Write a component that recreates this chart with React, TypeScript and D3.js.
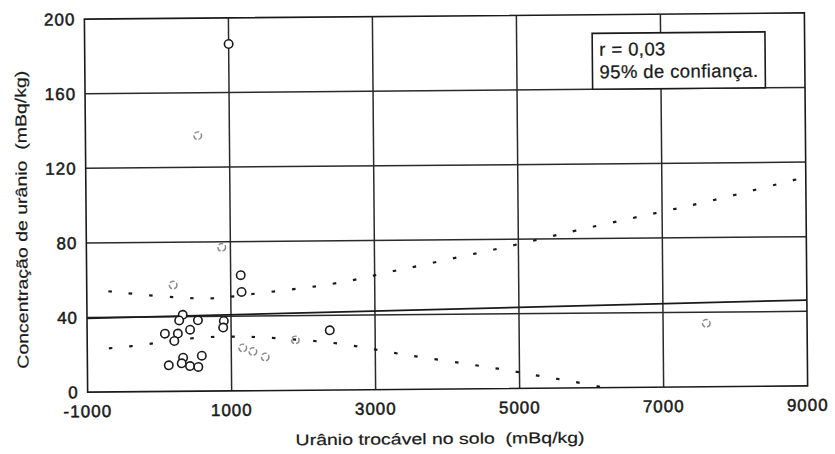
import React from "react";
import * as d3 from "d3";

// Exchangeable uranium in soil (x, mBq/kg) vs uranium concentration (y, mBq/kg)
const samplesClear: [number, number][] = [
  [1140, 62], [1150, 53], [330, 41], [280, 38], [540, 38], [900, 37.5],
  [890, 34], [80, 31], [260, 31], [430, 33], [210, 27], [330, 18],
  [590, 19], [130, 14], [310, 15], [425, 13.5], [540, 13], [2370, 32],
  [1000, 186],
];
const samplesFaint: [number, number][] = [
  [1160, 23], [1300, 21], [1470, 18], [1890, 27], [200, 57], [880, 77],
  [560, 137], [7600, 34],
];

// Least-squares line and its 95% confidence limits
const regression: [number, number][] = [[-1000, 39.5], [9000, 46]];
const upperLimit: [number, number][] = [
  [-700, 54], [-50, 51.2], [530, 49.6], [820, 49.5], [1400, 52.4],
  [2280, 55.8], [2840, 59.8], [3120, 62.4], [3670, 66.6], [4260, 71.4],
  [4840, 75.9], [5400, 80.8], [5680, 83.4], [6660, 91.4], [7200, 95.6],
  [7790, 100.6], [8360, 106], [8920, 111.2], [9000, 112],
];
const lowerLimit: [number, number][] = [
  [-700, 23.4], [-380, 24.4], [-90, 25.8], [520, 29.1], [1120, 29.2],
  [1400, 28.7], [2280, 26.2], [2830, 22.9], [3380, 18.6], [3940, 15.4],
  [4550, 11.6], [4830, 9.9], [5400, 5.6], [5680, 4.0], [6300, -1],
];

const xTicks = [-1000, 1000, 3000, 5000, 7000, 9000];
const yTicks = [0, 40, 80, 120, 160, 200];
const xGrid = [1000, 3000, 5000, 7000];
const yGrid = [40, 80, 120, 160];

const xTitle = "Urânio trocável no solo  (mBq/kg)";
const yTitle = "Concentração de urânio  (mBq/kg)";
const noteLines = ["r = 0,03", "95% de confiança."];

const W = 835;
const H = 454;
const FONT = "'Liberation Sans', Arial, Helvetica, sans-serif";
const INK = "#1a1a1a";

export default function App() {
  const x = d3.scaleLinear().domain([-1000, 9000]).range([86, 806]);
  const y = d3.scaleLinear().domain([0, 200]).range([389, 16]);
  const [x0, x1] = x.range();
  const [y0, y1] = y.range();

  const line = d3
    .line<[number, number]>()
    .x((d) => x(d[0]))
    .y((d) => y(d[1]))
    .curve(d3.curveBasis);
  const straight = d3
    .line<[number, number]>()
    .x((d) => x(d[0]))
    .y((d) => y(d[1]));

  const boxX0 = x(6050);
  const boxX1 = x(8450);
  const boxY0 = y(190);
  const boxY1 = y(160);

  const labelStyle = { whiteSpace: "pre" as const };

  return (
    <svg
      width={W}
      height={H}
      viewBox={`0 0 ${W} ${H}`}
      style={{ position: "absolute", left: 0, top: 0, background: "#fff" }}
    >
      <defs>
        <clipPath id="plot-clip">
          <rect x={x0} y={y1} width={x1 - x0} height={y0 - y1} />
        </clipPath>
      </defs>
      <rect width={W} height={H} fill="#fff" />
      <g transform="rotate(-0.5 446 202)">
        {/* grid */}
        {yGrid.map((v) => (
          <line key={`hy${v}`} x1={x0} x2={x1} y1={y(v)} y2={y(v)} stroke="#2a2a2a" strokeWidth={1.5} />
        ))}
        {xGrid.map((v) => (
          <line key={`vx${v}`} x1={x(v)} x2={x(v)} y1={y0} y2={y1} stroke="#2a2a2a" strokeWidth={1.5} />
        ))}
        {/* frame */}
        <rect x={x0} y={y1} width={x1 - x0} height={y0 - y1} fill="none" stroke={INK} strokeWidth={1.6} />

        {/* regression and confidence limits */}
        <g clipPath="url(#plot-clip)">
          <path d={straight(regression) ?? ""} fill="none" stroke={INK} strokeWidth={1.7} />
          <path d={line(upperLimit) ?? ""} fill="none" stroke={INK} strokeWidth={2.2} strokeDasharray="3.5 17" />
          <path d={line(lowerLimit) ?? ""} fill="none" stroke={INK} strokeWidth={2.2} strokeDasharray="3.5 17" />
        </g>

        {/* samples */}
        {samplesFaint.map((d, i) => (
          <circle key={`f${i}`} cx={x(d[0])} cy={y(d[1])} r={3.8} fill="none" stroke="#8a8a8a" strokeWidth={1.4} strokeDasharray="5 2" />
        ))}
        {samplesClear.map((d, i) => (
          <circle key={`c${i}`} cx={x(d[0])} cy={y(d[1])} r={4.2} fill="#fff" stroke={INK} strokeWidth={1.6} />
        ))}

        {/* note box */}
        <rect x={boxX0} y={boxY0} width={boxX1 - boxX0} height={boxY1 - boxY0} fill="#fff" stroke={INK} strokeWidth={1.6} />
        {noteLines.map((t, i) => (
          <text
            key={t}
            x={boxX0 + 7}
            y={boxY0 + 22.5 + i * 22.5}
            fontFamily={FONT}
            fontSize={18.5}
            letterSpacing={0.4}
            fill={INK}
            stroke={INK}
            strokeWidth={0.25}
          >
            {t}
          </text>
        ))}

        {/* tick labels */}
        {xTicks.map((v) => (
          <text key={`xt${v}`} x={x(v)} y={y0 + 25} textAnchor="middle" fontFamily={FONT} fontSize={17} letterSpacing={1} fill={INK} stroke={INK} strokeWidth={0.5}>
            {v}
          </text>
        ))}
        {yTicks.map((v) => (
          <text key={`yt${v}`} x={x0 - 9} y={y(v) + 6} textAnchor="end" fontFamily={FONT} fontSize={17} letterSpacing={1} fill={INK} stroke={INK} strokeWidth={0.5}>
            {v}
          </text>
        ))}

        {/* axis titles */}
        <text
          x={(x0 + x1) / 2 - 8}
          y={444}
          textAnchor="middle"
          fontFamily={FONT}
          fontSize={15.5}
          textLength={289}
          lengthAdjust="spacingAndGlyphs"
          fill={INK}
          stroke={INK}
          strokeWidth={0.2}
          style={labelStyle}
        >
          {xTitle}
        </text>
        <text
          transform="translate(27 216) rotate(-90)"
          textAnchor="middle"
          fontFamily={FONT}
          fontSize={15.5}
          textLength={298}
          lengthAdjust="spacingAndGlyphs"
          fill={INK}
          stroke={INK}
          strokeWidth={0.2}
          style={labelStyle}
        >
          {yTitle}
        </text>
      </g>
    </svg>
  );
}
